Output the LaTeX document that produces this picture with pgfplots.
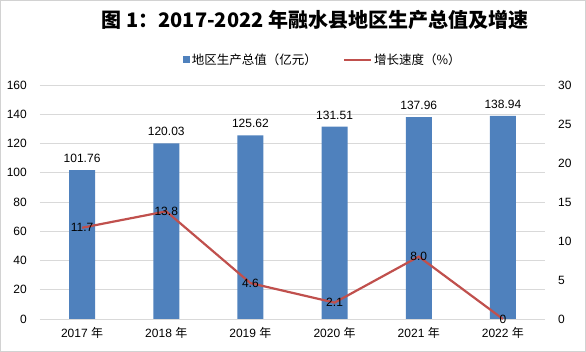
\documentclass[border=0pt]{standalone}
\usepackage{pgfplots}
\pgfplotsset{compat=1.18}
\usepackage{pgfplotstable}
\usepackage{fontspec}
\setmainfont{Liberation Sans}
\newfontfamily\cjk{Noto Sans CJK SC}
\definecolor{barblue}{HTML}{4F81BD}
\definecolor{linered}{HTML}{C0504D}
\definecolor{gridgray}{HTML}{D9D9D9}
\pgfplotstableread{
x gdp label
0 101.76 101.76
1 120.03 120.03
2 125.62 125.62
3 131.51 131.51
4 137.96 137.96
5 138.94 138.94
}\gdptable
\pgfplotstableread{
x rate label
0 11.7 11.7
1 13.8 13.8
2 4.6 4.6
3 2.1 2.1
4 8.0 8.0
5 0 0
}\ratetable
\begin{document}
\begin{tikzpicture}
\draw[gray!35, line width=0.8pt] (0.4pt,0.4pt) rectangle (585.6pt,351.6pt);
\node[font=\cjk\bfseries\fontsize{20}{20}\selectfont, anchor=center] at (315pt,332pt) {图 1：2017-2022 年融水县地区生产总值及增速};
\begin{axis}[
  at={(40pt,33pt)}, anchor=south west,
  scale only axis, width=505pt, height=234pt,
  xmin=-0.5, xmax=5.5, ymin=0, ymax=160,
  ytick={0,20,...,160},
  xtick={0,1,2,3,4,5},
  xticklabels={2017 {\cjk 年},2018 {\cjk 年},2019 {\cjk 年},2020 {\cjk 年},2021 {\cjk 年},2022 {\cjk 年}},
  axis line style={draw=none},
  ymajorgrids, grid style={gridgray, line width=0.9pt},
  major tick length=0pt,
  tick label style={font=\fontsize{12}{12}\selectfont},
  /pgf/number format/assume math mode=true,
  yticklabel style={inner sep=0pt, xshift=-13pt},
  xticklabel style={inner sep=0pt, yshift=-8pt},
  clip=false,
  legend style={at={(0.56,1.107)}, anchor=center, draw=none, fill=none,
    font=\cjk\fontsize{12.5}{12.5}\selectfont, legend columns=2,
    /tikz/every even column/.append style={column sep=24pt},
    nodes={inner sep=2pt}},
]
\addplot[ybar, bar width=26pt, fill=barblue, draw=none,
  nodes near coords, point meta=explicit symbolic,
  every node near coord/.append style={font=\fontsize{12}{12}\selectfont, black, yshift=4pt},
  legend image code/.code={\fill[barblue] (0pt,-3.5pt) rectangle (7pt,3.5pt);}]
  table[x=x, y=gdp, meta=label]{\gdptable};
\addlegendentry{地区生产总值（亿元）}
\addlegendimage{legend image code/.code={\draw[linered, line width=2.2pt] (0pt,0pt) -- (27pt,0pt);}}
\addlegendentry{增长速度（\%）}
\end{axis}
\begin{axis}[
  at={(40pt,33pt)}, anchor=south west,
  scale only axis, width=505pt, height=234pt,
  xmin=-0.5, xmax=5.5, ymin=0, ymax=30,
  ytick={0,5,...,30},
  xtick=\empty,
  yticklabel pos=right,
  axis line style={draw=none},
  major tick length=0pt,
  tick label style={font=\fontsize{12}{12}\selectfont},
  /pgf/number format/assume math mode=true,
  yticklabel style={inner sep=0pt, xshift=13pt},
  clip=false,
]
\addplot[linered, line width=2.2pt, mark=none,
  nodes near coords, point meta=explicit symbolic,
  nodes near coords align=center,
  every node near coord/.append style={font=\fontsize{12}{12}\selectfont, black, anchor=center}]
  table[x=x, y=rate, meta=label]{\ratetable};
\end{axis}
\end{tikzpicture}
\end{document}
